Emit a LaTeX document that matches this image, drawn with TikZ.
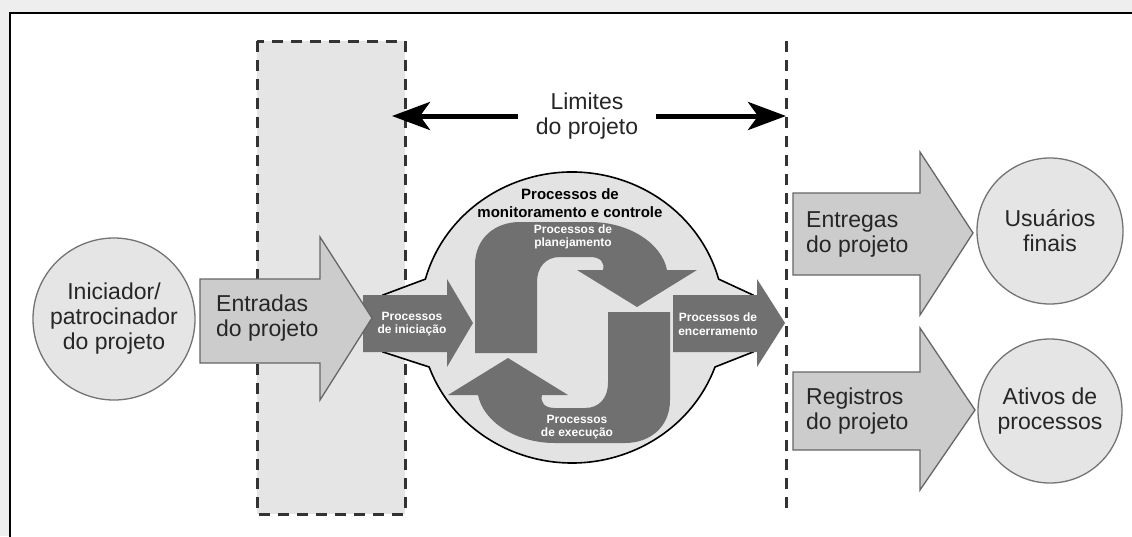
\documentclass[tikz,border=0pt]{standalone}
\usepackage{fontspec}
\setmainfont{Liberation Sans}
\usetikzlibrary{arrows.meta}
\definecolor{fundo}{HTML}{EEEEEE}
\definecolor{escuro}{HTML}{707070}

\begin{document}
\begin{tikzpicture}[x=1pt,y=-1pt,
    txt/.style={text=black!85, font=\fontsize{23}{25}\selectfont, align=center, inner sep=0pt},
    proc/.style={text=white, font=\bfseries\fontsize{12}{13.5}\selectfont, align=center, inner sep=0pt},
    circ/.style={circle, draw=black!55, line width=1.3pt, fill=black!10, minimum size=162pt, txt},
    seta/.style={draw=black!60, line width=1.3pt, fill=black!20},
    setaesc/.style={fill=escuro},
    limite/.style={draw=black!80, line width=3pt, dash pattern=on 11pt off 8pt},
    bigarrow/.style={line width=5pt, -{Stealth[length=38pt,width=28pt,inset=10pt]}}]
    \useasboundingbox (0,0) rectangle (1132,536);
    \fill[fundo] (0,0) rectangle (1132,536);
    \draw[line width=2.5pt, fill=white] (10,13) rectangle (1150,560);
    % limites
    \fill[black!10] (257,41) rectangle (405,514);
    \draw[limite] (257,41) rectangle (405,514);
    \draw[limite] (786,41) -- (786,514);
    % nuvem de monitoramento
    \draw[black, line width=1.6pt, fill=black!11]
      (383,295) -- (425.4,279.1)
      arc[start angle=195.3, end angle=344.7, x radius=152, y radius=145.5]
      -- (753,295) -- (753,352) -- (715,367)
      arc[start angle=19.9, end angle=160.1, x radius=152, y radius=145.5]
      -- (383,352) -- cycle;
    \fill[setaesc] (363,295) -- (447,295) -- (447,279) -- (473,323) -- (447,367) -- (447,352) -- (363,352) -- cycle;
    \fill[setaesc] (673,295) -- (757,295) -- (757,279) -- (785,323) -- (757,367) -- (757,352) -- (673,352) -- cycle;
    % ciclo
    \fill[setaesc] (475,353) -- (475,265) .. controls (475,238) and (495,222) .. (520,222) -- (590,222)
      .. controls (630,222) and (662,244) .. (667,270) -- (697,270) -- (637,307) -- (577,270) -- (603,270)
      .. controls (605,262) and (600,257) .. (590,257) -- (560,257)
      .. controls (545,257) and (537,268) .. (537,282) -- (537,353) -- cycle;
    \fill[setaesc, rotate around={180:(572.5,332.5)}] (475,353) -- (475,265) .. controls (475,238) and (495,222) .. (520,222) -- (590,222)
      .. controls (630,222) and (662,244) .. (667,270) -- (697,270) -- (637,307) -- (577,270) -- (603,270)
      .. controls (605,262) and (600,257) .. (590,257) -- (560,257)
      .. controls (545,257) and (537,268) .. (537,282) -- (537,353) -- cycle;
    % setas claras
    \draw[seta] (200,279) -- (320,279) -- (320,237) -- (372,318) -- (320,400) -- (320,363) -- (200,363) -- cycle;
    \draw[seta] (793,193) -- (920,193) -- (920,152) -- (973,233) -- (920,315) -- (920,275) -- (793,275) -- cycle;
    \draw[seta] (793,372) -- (920,372) -- (920,328) -- (975,410) -- (920,490) -- (920,450) -- (793,450) -- cycle;

    \node[circ] (ini) at (114,319) {Iniciador/\\patrocinador\\do projeto};
    \node[circ, minimum size=146pt] (usu) at (1050,231) {Usuários\\finais};
    \node[circ, minimum size=144pt] (ativos) at (1050,411) {Ativos de\\processos};

    \node[txt, align=left, anchor=west] (entradas) at (216,318) {Entradas\\do projeto};
    \node[txt, align=left, anchor=west] (entregas) at (806,234) {Entregas\\do projeto};
    \node[txt, align=left, anchor=west] (registros) at (806,411) {Registros\\do projeto};

    \node[txt, inner xsep=18pt] (limites) at (587,116) {Limites\\do projeto};
    \coordinate (limesq) at (392,116);
    \coordinate (limdir) at (786,116);
    \draw[bigarrow] (limites) -- (limesq);
    \draw[bigarrow] (limites) -- (limdir);

    \node[font=\bfseries\fontsize{15}{18}\selectfont, align=center, inner sep=0pt] (monit) at (570,203) {Processos de\\monitoramento e controle};
    \node[proc] (inic) at (412,324) {Processos\\de iniciação};
    \node[proc] (encer) at (718,324) {Processos de\\encerramento};
    \node[proc] (plan) at (573,237) {Processos de\\planejamento};
    \node[proc] (exec) at (577,427) {Processos\\de execução};
\end{tikzpicture}
\end{document}
